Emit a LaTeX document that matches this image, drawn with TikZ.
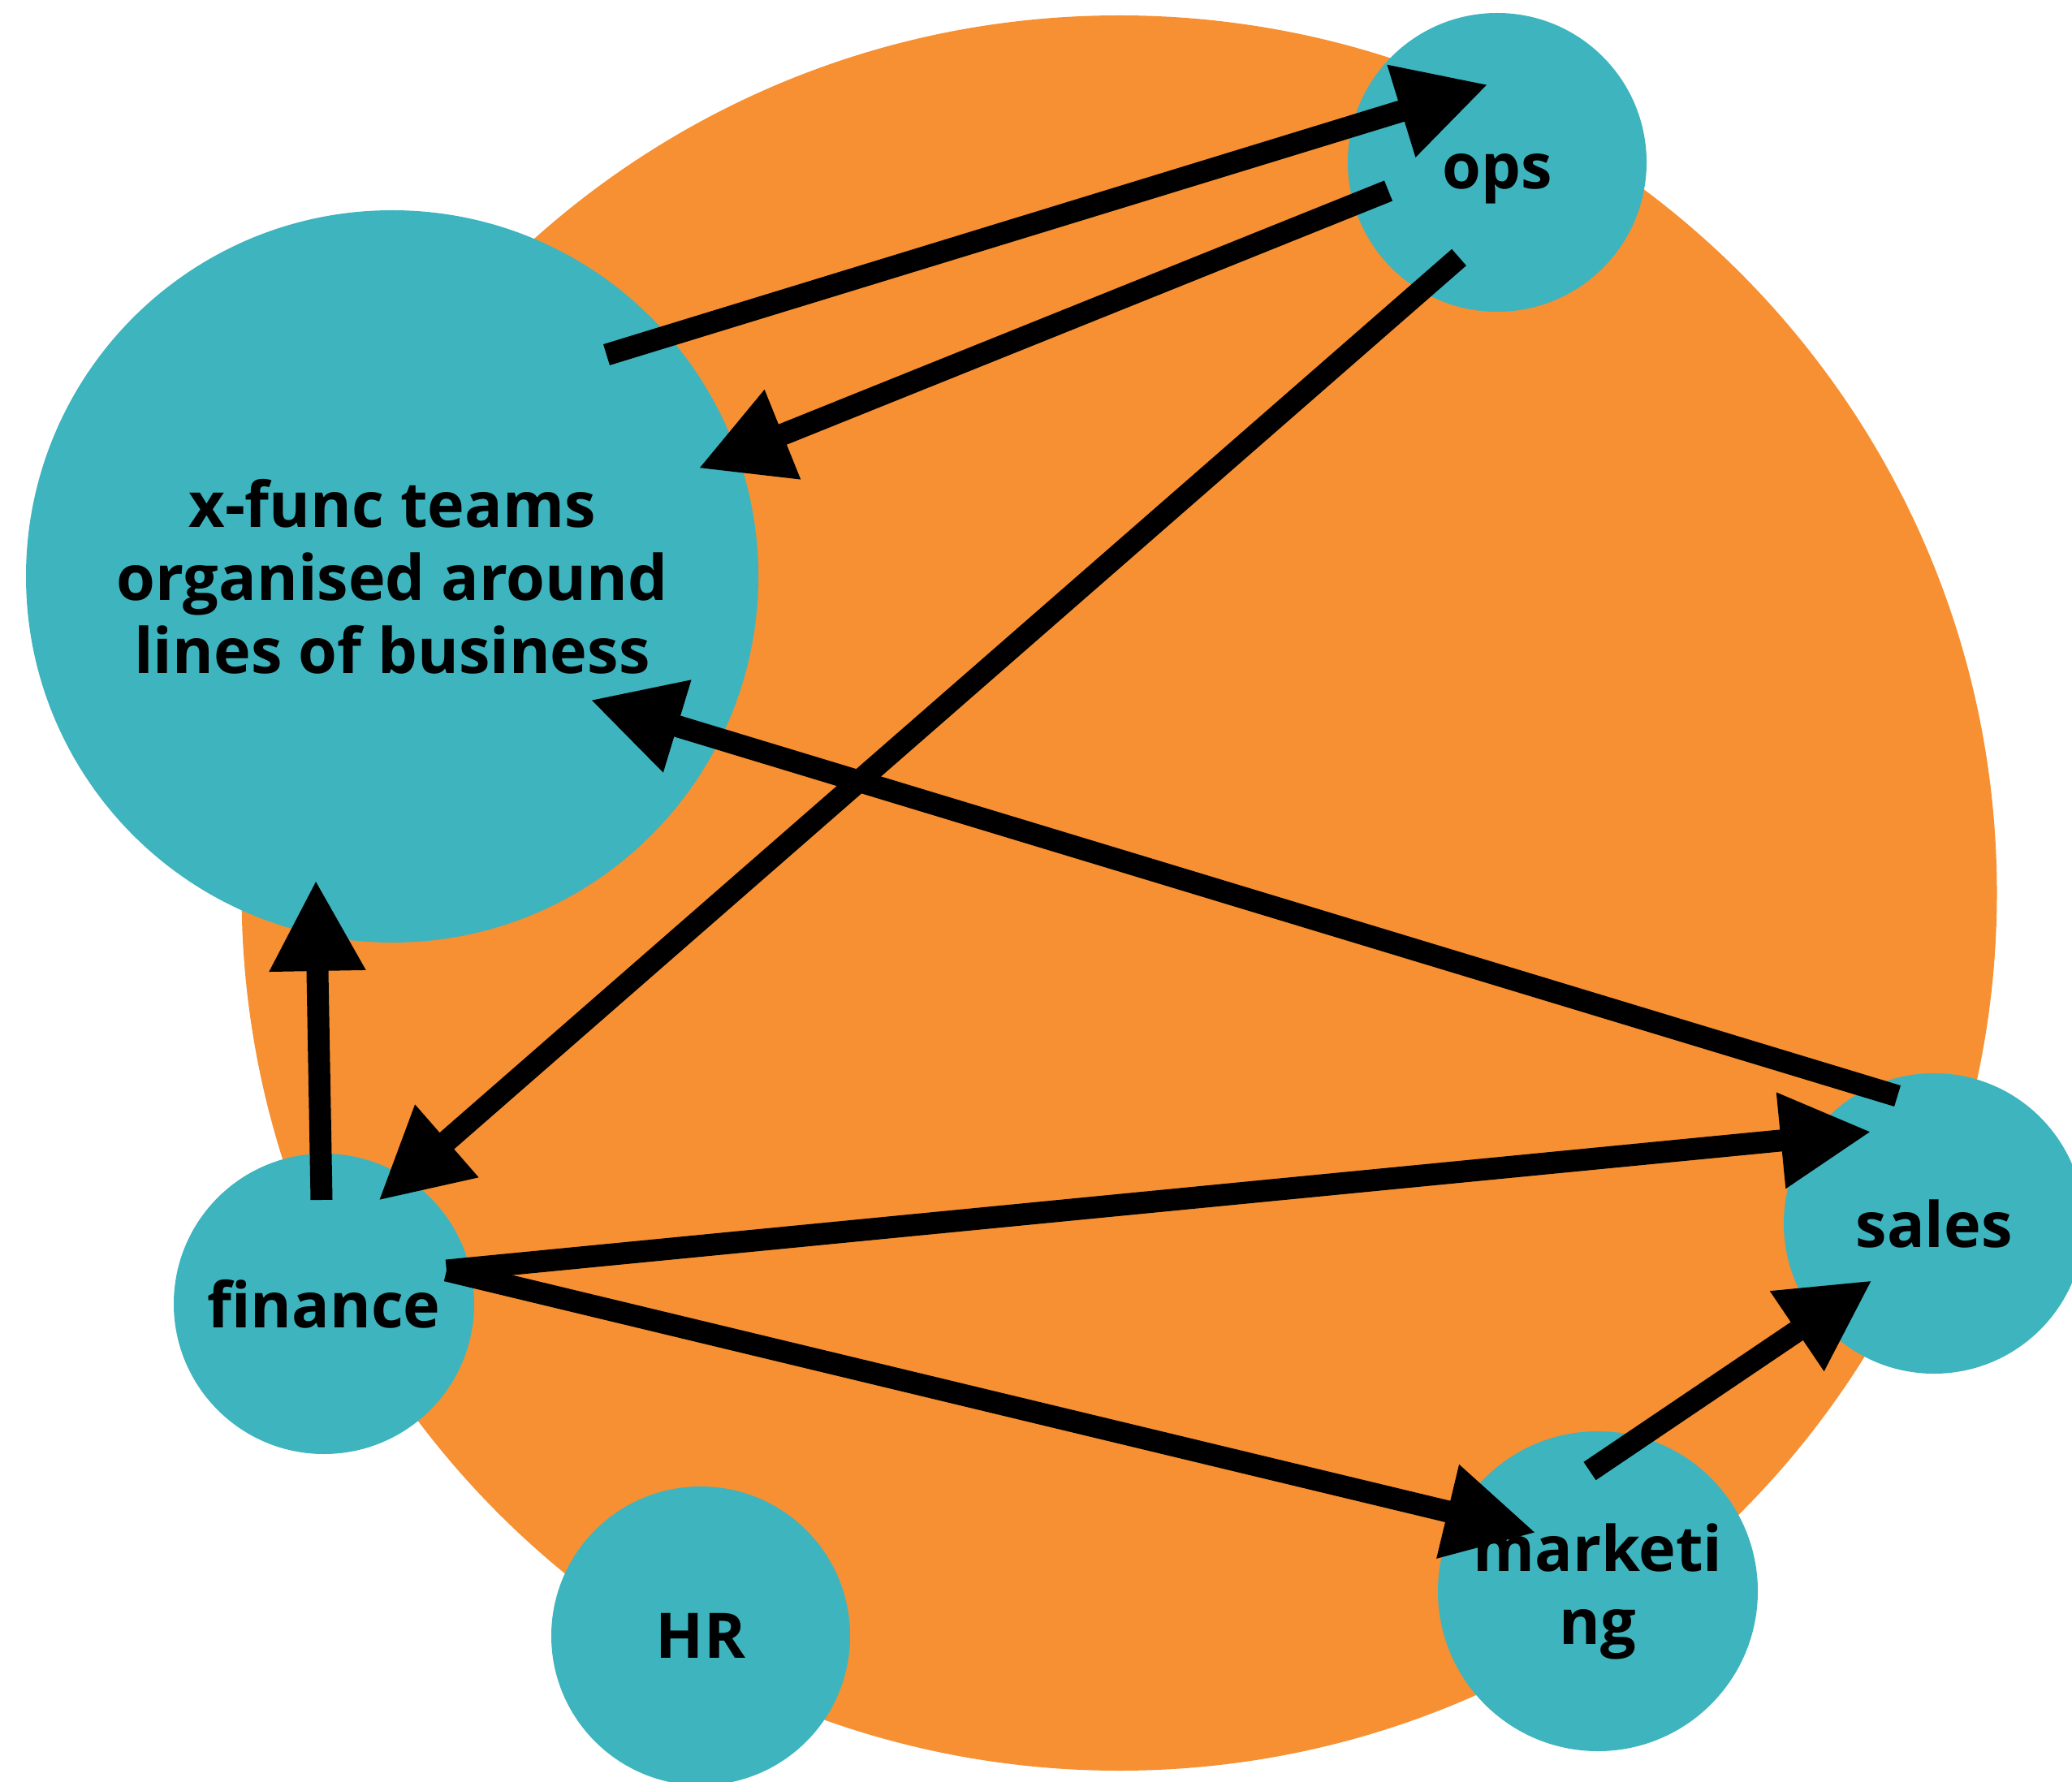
\documentclass[tikz,border=0pt]{standalone}
\usepackage{fontspec}
\setmainfont{Open Sans}
\usetikzlibrary{arrows.meta}
\definecolor{blob}{HTML}{F69033}
\definecolor{team}{HTML}{3DB4BE}

\begin{document}
\begin{tikzpicture}[unit/.style={circle,fill=team,inner sep=0pt,align=center,font=\bfseries\fontsize{22pt}{25.6pt}\selectfont},link/.style={black,line width=2.7mm,-{Triangle[length=11.2mm,width=11.1mm]}}]
 \useasboundingbox (0,0) rectangle (25.52,-21.95);
 \clip (0,0) rectangle (25.52,-21.95);
 \fill[blob] (13.785,-11) circle (10.81cm);
 \node[unit,minimum size=36.8mm] (ops) at (18.44,-2.00) {\raisebox{-2mm}[\height][\depth]{ops}};
 \node[unit,minimum size=90.2mm] (xfunc) at (4.83,-7.10) {x-func teams\\organised around\\lines of business};
 \node[unit,minimum size=37mm] (finance) at (3.99,-16.06) {finance};
 \node[unit,minimum size=37mm] (sales) at (23.82,-15.07) {sales};
 \node[unit,minimum size=39.4mm] (marketing) at (19.68,-19.60) {marketi\\ng};
 \node[unit,minimum size=36.8mm] (hr) at (8.63,-20.15) {HR};
 % arrow ends
 \coordinate (x2o) at (7.47,-4.37); \coordinate (x2o') at (18.33,-1.04);
 \coordinate (o2x) at (17.10,-2.35); \coordinate (o2x') at (8.60,-5.77);
 \coordinate (o2f) at (17.97,-3.17); \coordinate (o2f') at (4.66,-14.79);
 \coordinate (s2x) at (23.37,-13.50); \coordinate (s2x') at (7.27,-8.62);
 \coordinate (f2x) at (3.96,-14.78); \coordinate (f2x') at (3.89,-10.84);
 \coordinate (fout) at (5.50,-15.65);
 \coordinate (f2s') at (23.05,-13.94); \coordinate (f2m') at (18.92,-18.88);
 \coordinate (m2s) at (19.58,-18.12); \coordinate (m2s') at (23.06,-15.77);
 \draw[link] (x2o) -- (x2o');
 \draw[link] (o2x) -- (o2x');
 \draw[link] (o2f) -- (o2f');
 \draw[link] (s2x) -- (s2x');
 \draw[link] (f2x) -- (f2x');
 \draw[link] (fout) -- (f2s');
 \draw[link] (fout) -- (f2m');
 \draw[link] (m2s) -- (m2s');
\end{tikzpicture}
\end{document}
